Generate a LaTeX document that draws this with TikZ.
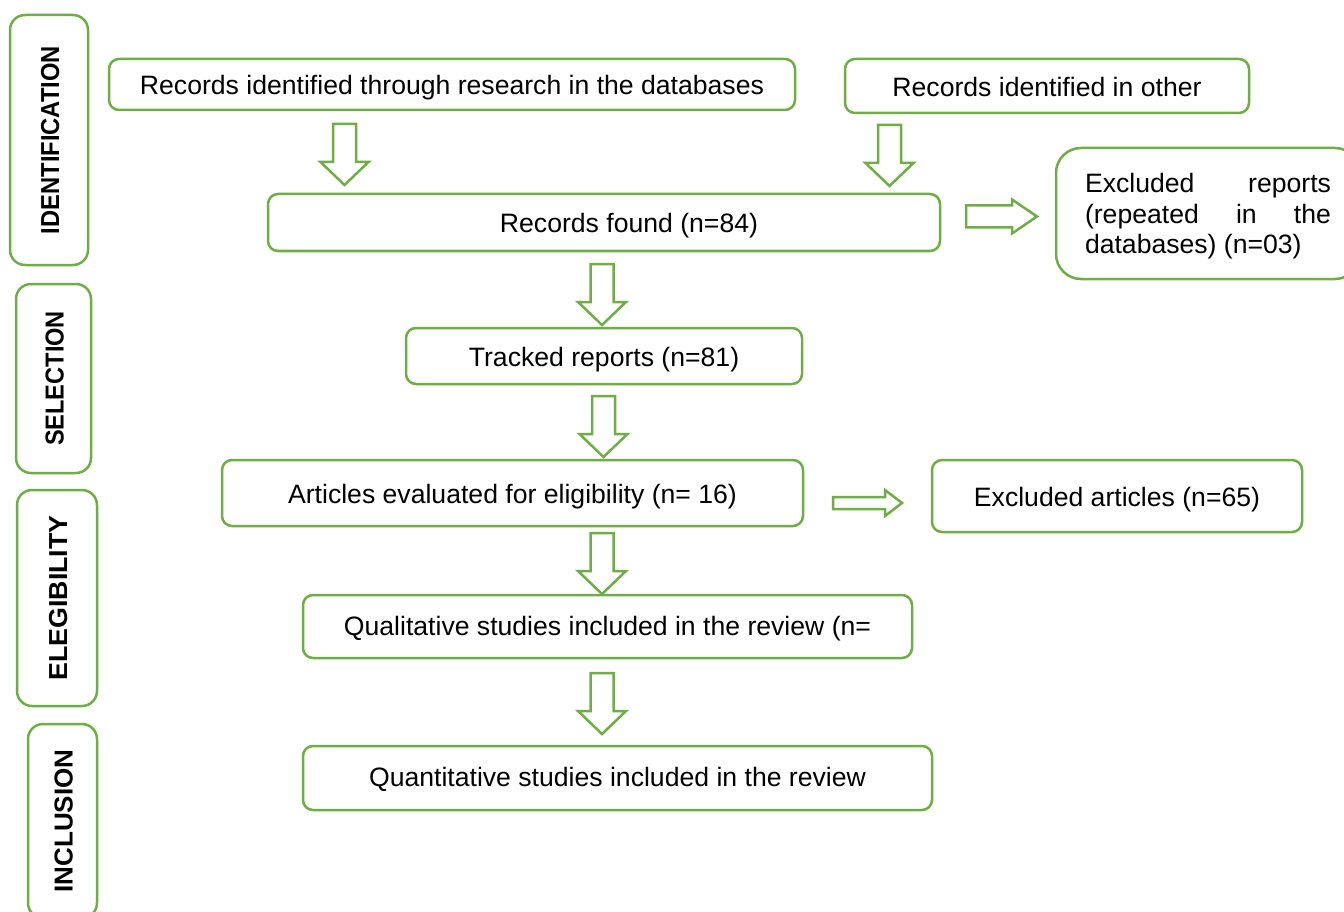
\documentclass[tikz,border=0pt]{standalone}
\usepackage{fontspec}
\usepackage{graphicx}
\setmainfont{Liberation Sans}
\definecolor{pgreen}{HTML}{70AD47}
\tikzset{
  boxbase/.style={draw=pgreen, line width=2.5pt, rounded corners=10pt, fill=white,
    font=\fontsize{26.6}{30.5}\selectfont, inner sep=0pt, anchor=center},
  box/.style={boxbase, text height=21pt, text depth=0pt},
  lowbox/.style={boxbase, text height=17pt, text depth=0pt},
  phase/.style={draw=pgreen, line width=2.5pt, rounded corners=15pt, rotate=90,
    font=\fontsize{26}{29}\selectfont\bfseries, inner sep=0pt, anchor=center,
    text height=20pt, text depth=0pt},
  blockarrow/.style={draw=pgreen, line width=2.5pt, line join=miter, fill=white},
  downarr/.pic={\path[blockarrow] (-11.5,0) -- (11.5,0) -- (11.5,38) -- (24,38) -- (0,61) -- (-24,38) -- (-11.5,38) -- cycle;},
  rightbig/.pic={\path[blockarrow] (0,-11) -- (46,-11) -- (46,-17) -- (71,0) -- (46,17) -- (46,11) -- (0,11) -- cycle;},
  rightsmall/.pic={\path[blockarrow] (0,-6) -- (52,-6) -- (52,-13) -- (69,0) -- (52,13) -- (52,6) -- (0,6) -- cycle;}
}
\begin{document}
\begin{tikzpicture}[x=1pt,y=-1pt]
\clip (0,0) rectangle (1344,912);
\fill[white] (0,0) rectangle (1344,912);
% phase labels
\node[phase, minimum width=250pt, minimum height=78pt] (ident) at (49,140) {\scalebox{0.913}[1]{IDENTIFICATION}};
\node[phase, minimum width=189pt, minimum height=75pt] (select) at (53.5,378.5) {\scalebox{0.907}[1]{SELECTION}};
\node[phase, minimum width=216pt, minimum height=80pt] (elig) at (57,598) {\scalebox{1.03}[1]{ELEGIBILITY}};
\node[phase, minimum width=194pt, minimum height=69pt] (incl) at (62.5,821) {INCLUSION};
% boxes
\node[box, minimum width=686pt, minimum height=51pt] (dbrec) at (452,84.5) {Records identified through research in the databases};
\node[box, minimum width=404pt, minimum height=54pt] (other) at (1047,86) {Records identified in other};
\node[box, minimum width=672pt, minimum height=57pt] (found) at (604,222.5) {\hspace*{50pt}Records found (n=84)};
\node[boxbase, rounded corners=25pt, minimum width=304pt, minimum height=131pt] (excl1) at (1208,213.5) {\parbox{246pt}{\vspace*{6pt}Excluded\hfill reports\\(repeated\hfill in\hfill the\\databases) (n=03)}};
\node[box, minimum width=396pt, minimum height=56pt] (tracked) at (604,356) {Tracked reports (n=81)};
\node[box, minimum width=581pt, minimum height=66pt] (elig2) at (512.5,493) {Articles evaluated for eligibility (n= 16)};
\node[box, minimum width=370pt, minimum height=72pt] (excl2) at (1117,496) {Excluded articles (n=65)};
\node[lowbox, minimum width=609pt, minimum height=63pt] (qual) at (607.5,626.5) {Qualitative studies included in the review (n=};
\node[lowbox, minimum width=629pt, minimum height=64pt] (quant) at (617.5,778) {Quantitative studies included in the review};
% block arrows
\pic (a1) at (344.5,124) {downarr};
\pic (a2) at (889.5,125) {downarr};
\pic (a3) at (602,264) {downarr};
\pic (a4) at (603.5,396) {downarr};
\pic (a5) at (602,533) {downarr};
\pic (a6) at (602,673) {downarr};
\pic (r1) at (966,216.5) {rightbig};
\pic (r2) at (833,503) {rightsmall};
\end{tikzpicture}
\end{document}
